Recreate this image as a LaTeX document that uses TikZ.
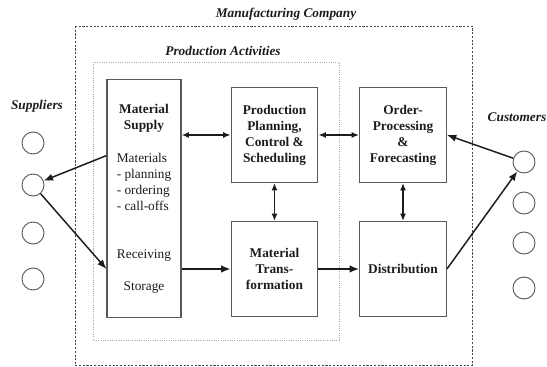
\documentclass[tikz,border=0pt]{standalone}
\usepackage{fontspec}
\setmainfont{Liberation Serif}
\usetikzlibrary{arrows.meta,calc,positioning}
\definecolor{ink}{HTML}{1C1C1C}
\definecolor{frame}{HTML}{5A5A5A}
\definecolor{dots}{HTML}{A8A8A8}

\begin{document}
\begin{tikzpicture}[x=0.75pt,y=-0.75pt,
    block/.style={draw=frame,line width=0.9pt,minimum width=65pt,minimum height=71pt,
      align=center,font=\bfseries,text=ink,inner sep=0pt},
    party/.style={circle,draw=frame,line width=0.7pt,minimum size=16.5pt,inner sep=0pt},
    flow/.style={ink,line width=1.1pt,-{Latex[length=7pt,width=5.5pt]}},
    twoway/.style={ink,line width=1.1pt,{Latex[length=5.5pt,width=4.5pt]}-{Latex[length=5.5pt,width=4.5pt]}},
    caption/.style={font=\bfseries\itshape,text=ink}]
  \useasboundingbox (0,0) rectangle (547,367);

  % company and production frames
  \draw[ink!80,line width=0.7pt,dash pattern=on 1.6pt off 1.2pt] (75,26) rectangle (472,365.5);
  \draw[dots,line width=0.7pt,densely dotted] (93,62) rectangle (339,340);
  \node[caption] (company) at (286,14) {Manufacturing Company};
  \node[caption] (activities) at (223,51) {Production Activities};

  % material supply column
  \node[draw=frame,line width=0.9pt,minimum width=55.5pt,minimum height=178pt,inner sep=0pt]
    (supply) at (144,198.5) {};
  \node[font=\bfseries,text=ink,align=center] (supplyname) at (144,118.5) {Material\\Supply};
  \node[text=ink,align=left] (mats) at (144,182) {Materials\\- planning\\- ordering\\- call-offs};
  \node[text=ink] (recv) at (144,256) {Receiving};
  \node[text=ink] (store) at (144,288) {Storage};

  \node[block] (plan) at (274.5,135) {Production\\Planning,\\Control \&\\Scheduling};
  \node[block] (transform) at (274.5,269) {Material\\Trans-\\formation};
  \node[block] (order) at (403,135) {Order-\\Processing\\\&\\Forecasting};
  \node[block] (dist) at (403,269) {Distribution};

  % suppliers and customers
  \node[caption] (suppliers) at (37,106) {Suppliers};
  \node[party] (s1) at (33,143) {};
  \node[party] (s2) at (33,185) {};
  \node[party] (s3) at (33,233) {};
  \node[party] (s4) at (33,279) {};
  \node[caption] (customers) at (517,117) {Customers};
  \node[party] (c1) at (524,162) {};
  \node[party] (c2) at (524,203) {};
  \node[party] (c3) at (524,243) {};
  \node[party] (c4) at (524,288) {};

  \draw[flow] ($(supply.west |- mats.north)+(0,7)$) -- (s2);
  \draw[flow] (s2) -- (supply.west |- transform);
  \draw[flow] (supply.east |- transform) -- (transform.west);
  \draw[flow] (transform) -- (dist);
  \draw[twoway] (supply.east |- plan) -- (plan.west);
  \draw[twoway] (plan) -- (order);
  \draw[twoway] (plan) -- (transform);
  \draw[twoway] (order) -- (dist);
  \draw[flow] (dist.east) -- (c1);
  \draw[flow] (c1) -- (order.east);
\end{tikzpicture}
\end{document}
